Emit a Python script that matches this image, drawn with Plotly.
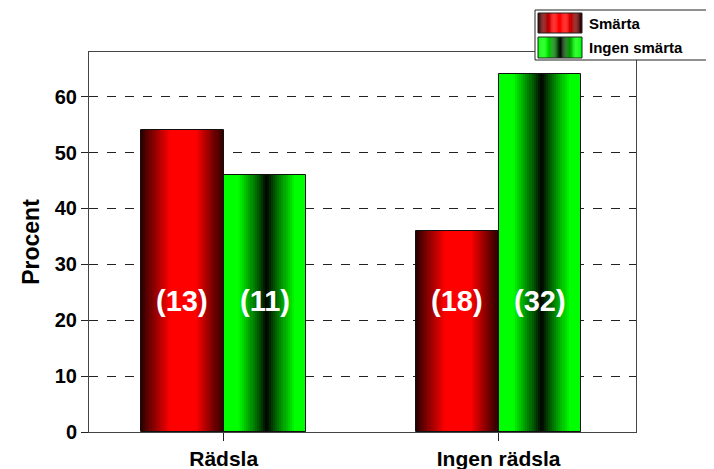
import plotly.graph_objects as go

# ---- data ----
categories = ["Rädsla", "Ingen rädsla"]
series_names = ["Smärta", "Ingen smärta"]
smarta_pct = [54, 36]
ingen_smarta_pct = [46, 64]
smarta_n = [13, 18]
ingen_smarta_n = [11, 32]
y_ticks = [0, 10, 20, 30, 40, 50, 60]

FONT = "Liberation Sans, Arial, sans-serif"
x_pos = list(range(len(categories)))
BAR_W = 0.3
N_SLICES = 40


def red_col(t):
    if t < 0.35:
        k = 0.14 + 0.86 * (t / 0.35) ** 0.9
    elif t > 0.66:
        k = 1 - 0.84 * ((t - 0.66) / 0.34) ** 1.0
    else:
        k = 1.0
    return f"rgb({int(255*k)},0,0)"


def green_col(t):
    d = abs(t - 0.52)
    k = min(1.0, d / 0.34)
    k = k ** 0.9
    return f"rgb(0,{int(255*k)},0)"


fig = go.Figure()


def add_gradient_bar(values, offset, colfn):
    for i in range(N_SLICES):
        t = (i + 0.5) / N_SLICES
        fig.add_trace(go.Bar(
            x=x_pos, y=values,
            width=BAR_W / N_SLICES * 1.08,
            offset=offset + i * BAR_W / N_SLICES,
            marker=dict(color=colfn(t), line=dict(width=0)),
            showlegend=False, hoverinfo="skip",
        ))
    fig.add_trace(go.Bar(
        x=x_pos, y=values, width=BAR_W, offset=offset,
        marker=dict(color="rgba(0,0,0,0)", line=dict(color="#111", width=1)),
        showlegend=False,
    ))


add_gradient_bar(smarta_pct, -BAR_W, red_col)
add_gradient_bar(ingen_smarta_pct, 0, green_col)

# count labels inside bars
for xi, n1, n2 in zip(x_pos, smarta_n, ingen_smarta_n):
    for dx, n in ((-BAR_W / 2, n1), (BAR_W / 2, n2)):
        fig.add_annotation(x=xi + dx, y=23.5, xref="x", yref="y",
                           text=f"<b>({n})</b>", showarrow=False,
                           font=dict(family=FONT, size=29, color="white"))

# manual legend (gradient swatches)
lx0, lx1 = (538 - 89) / 547, (582 - 89) / 547


def py(p):
    return (432 - p) / 380


fig.add_shape(type="rect", xref="paper", yref="paper",
              x0=(535 - 89) / 547, x1=(712 - 89) / 547, y0=py(60), y1=py(10),
              line=dict(color="#222", width=1), fillcolor="white", layer="above")
for (top, bot), fn, name in (((13, 33), red_col, series_names[0]),
                             ((37, 58), green_col, series_names[1])):
    for i in range(N_SLICES):
        t = (i + 0.5) / N_SLICES
        a = lx0 + (lx1 - lx0) * i / N_SLICES
        b = lx0 + (lx1 - lx0) * (i + 1.1) / N_SLICES
        fig.add_shape(type="rect", xref="paper", yref="paper",
                      x0=a, x1=min(b, lx1), y0=py(bot), y1=py(top),
                      line=dict(width=0), fillcolor=fn(t), layer="above")
    fig.add_shape(type="rect", xref="paper", yref="paper",
                  x0=lx0, x1=lx1, y0=py(bot), y1=py(top),
                  line=dict(color="#222", width=1), layer="above")
    fig.add_annotation(xref="paper", yref="paper", x=(587 - 89) / 547,
                       y=py((top + bot) / 2), xanchor="left", yanchor="middle",
                       text=f"<b>{name}</b>", showarrow=False,
                       font=dict(family=FONT, size=15, color="black"))

fig.update_layout(
    width=714, height=469,
    margin=dict(l=81, r=86, t=44, b=45, autoexpand=False),
    paper_bgcolor="white", plot_bgcolor="white",
    barmode="overlay", bargap=0,
    showlegend=False,
    font=dict(family=FONT, color="black"),
)
fig.update_xaxes(
    range=[-0.49, 1.5], tickmode="array", tickvals=x_pos,
    ticktext=categories, automargin=False,
    tickfont=dict(size=21, family=FONT, weight="bold"), ticks="outside", ticklen=8,
    tickcolor="#222", showgrid=False, zeroline=False,
    showline=True, linecolor="#444", linewidth=1, mirror=True,
)
fig.update_yaxes(
    range=[0, 68], tickmode="array", tickvals=y_ticks, automargin=False,
    tickfont=dict(size=20, family=FONT, weight="bold"), ticks="outside", ticklen=7,
    tickcolor="#222", showgrid=True, gridcolor="#222", griddash="dash",
    gridwidth=1, zeroline=False,
    showline=True, linecolor="#444", linewidth=1, mirror=True,
    title=dict(text="Procent", font=dict(size=23, family=FONT, weight="bold"), standoff=8),
)

fig.write_html("out.html")
